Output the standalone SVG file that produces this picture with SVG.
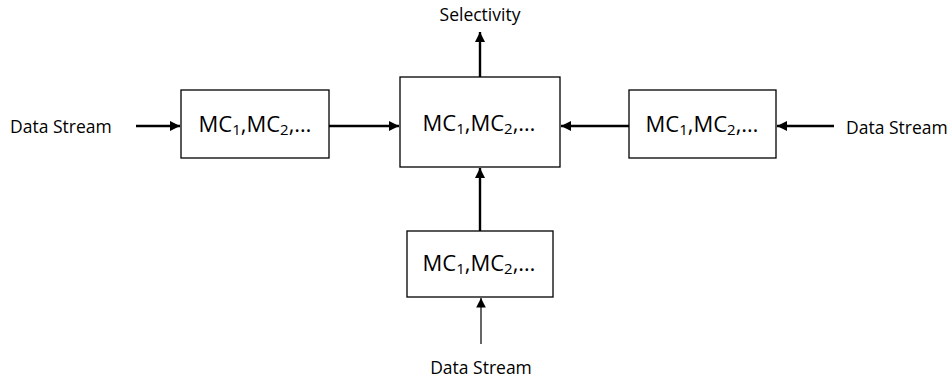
<svg xmlns="http://www.w3.org/2000/svg" width="949" height="382" viewBox="0 0 949 382">
<style>
.box{fill:#fff;stroke:#000;stroke-width:1.3}
.t{font-family:"Open Sans","Liberation Sans",sans-serif;fill:#000}
.lbl{font-size:17.5px}
.mc{font-size:22px;text-anchor:middle}
.s{font-size:15px}
.c{stroke:#000;stroke-width:2.4;fill:none}
.thin{stroke:#000;stroke-width:1.2;fill:none}
</style>
<defs>
<marker id="ah" viewBox="0 0 10 10" refX="10" refY="5" markerWidth="4.2" markerHeight="4.2" orient="auto" markerUnits="strokeWidth"><path d="M0,0L10,5L0,10z" fill="#000"/></marker>
<marker id="ahs" viewBox="0 0 10 10" refX="10" refY="5" markerWidth="8" markerHeight="8" orient="auto" markerUnits="strokeWidth"><path d="M0,0L10,5L0,10z" fill="#000"/></marker>
</defs>
<g id="connectors">
<line class="c" x1="136" y1="126" x2="180" y2="126" marker-end="url(#ah)"/>
<line class="c" x1="329" y1="126" x2="399" y2="126" marker-end="url(#ah)"/>
<line class="c" x1="629" y1="126" x2="561" y2="126" marker-end="url(#ah)"/>
<line class="c" x1="834" y1="126" x2="777" y2="126" marker-end="url(#ah)"/>
<line class="c" x1="480" y1="77" x2="480" y2="32" marker-end="url(#ah)"/>
<line class="c" x1="480" y1="231" x2="480" y2="168" marker-end="url(#ah)"/>
<line class="thin" x1="481" y1="344" x2="481" y2="298" marker-end="url(#ahs)"/>
</g>
<g id="n-left"><rect class="box" x="181" y="90" width="148" height="68"/><text class="t mc" x="255" y="132">MC<tspan class="s" dy="3">1</tspan><tspan dy="-3">,MC</tspan><tspan class="s" dy="3">2</tspan><tspan dy="-3">,…</tspan></text></g>
<g id="n-center"><rect class="box" x="400" y="77" width="160" height="90"/><text class="t mc" x="479" y="131">MC<tspan class="s" dy="3">1</tspan><tspan dy="-3">,MC</tspan><tspan class="s" dy="3">2</tspan><tspan dy="-3">,…</tspan></text></g>
<g id="n-right"><rect class="box" x="629" y="90" width="147" height="68"/><text class="t mc" x="702" y="132">MC<tspan class="s" dy="3">1</tspan><tspan dy="-3">,MC</tspan><tspan class="s" dy="3">2</tspan><tspan dy="-3">,…</tspan></text></g>
<g id="n-bottom"><rect class="box" x="407" y="231" width="146" height="66"/><text class="t mc" x="479" y="271">MC<tspan class="s" dy="3">1</tspan><tspan dy="-3">,MC</tspan><tspan class="s" dy="3">2</tspan><tspan dy="-3">,…</tspan></text></g>
<g id="labels">
<text class="t lbl" x="10" y="133">Data Stream</text>
<text class="t lbl" x="846" y="134">Data Stream</text>
<text class="t lbl" x="481" y="374" text-anchor="middle">Data Stream</text>
<text class="t lbl" x="480" y="21" text-anchor="middle">Selectivity</text>
</g>
</svg>
